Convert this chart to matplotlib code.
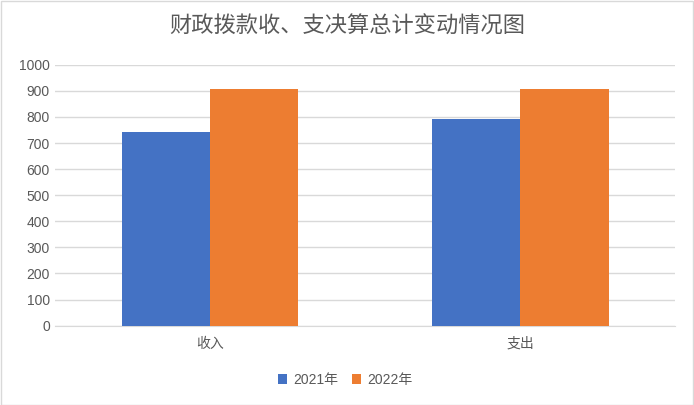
import numpy as np
import matplotlib.pyplot as plt
from matplotlib.patches import Rectangle

plt.rcParams['font.family'] = ['Liberation Sans', 'Noto Sans CJK SC', 'DejaVu Sans']

categories = ['收入', '支出']
series_names = ['2021年', '2022年']
values_2021 = [742, 792]
values_2022 = [906, 906]
colors = ['#4472c4', '#ed7d31']

fig = plt.figure(figsize=(6.94, 4.05), dpi=100)
ax = fig.add_axes([0.079, 0.196, 0.894, 0.644])

x = np.arange(len(categories))
w = 0.285
ax.bar(x - w / 2, values_2021, w, color=colors[0], label=series_names[0], zorder=3)
ax.bar(x + w / 2, values_2022, w, color=colors[1], label=series_names[1], zorder=3)

ax.set_xlim(-0.5, 1.5)
ax.set_ylim(0, 1000)
ax.set_yticks(range(0, 1001, 100))
ax.set_xticks(x)
ax.set_xticklabels(categories)
ax.grid(axis='y', color='#d9d9d9', linewidth=1, zorder=0)
for s in ['top', 'right', 'left']:
    ax.spines[s].set_visible(False)
ax.spines['bottom'].set_color('#d9d9d9')
ax.tick_params(axis='both', length=0, colors='#595959', labelsize=10)
ax.tick_params(axis='x', pad=8)

fig.suptitle('财政拨款收、支决算总计变动情况图', y=0.965, fontsize=16,
             color='#595959', family=['Noto Sans CJK SC', 'DejaVu Sans'])
fig.legend(loc='center', bbox_to_anchor=(0.497, 0.062), ncol=2, frameon=False,
           fontsize=10, handlelength=0.7, handleheight=0.7, columnspacing=1.0,
           handletextpad=0.4, labelcolor='#595959')

fig.patches.append(Rectangle((0.001, 0.001), 0.997, 0.997, transform=fig.transFigure,
                             fill=False, edgecolor='#d9d9d9', linewidth=1))

fig.savefig('out.png', dpi=100)
